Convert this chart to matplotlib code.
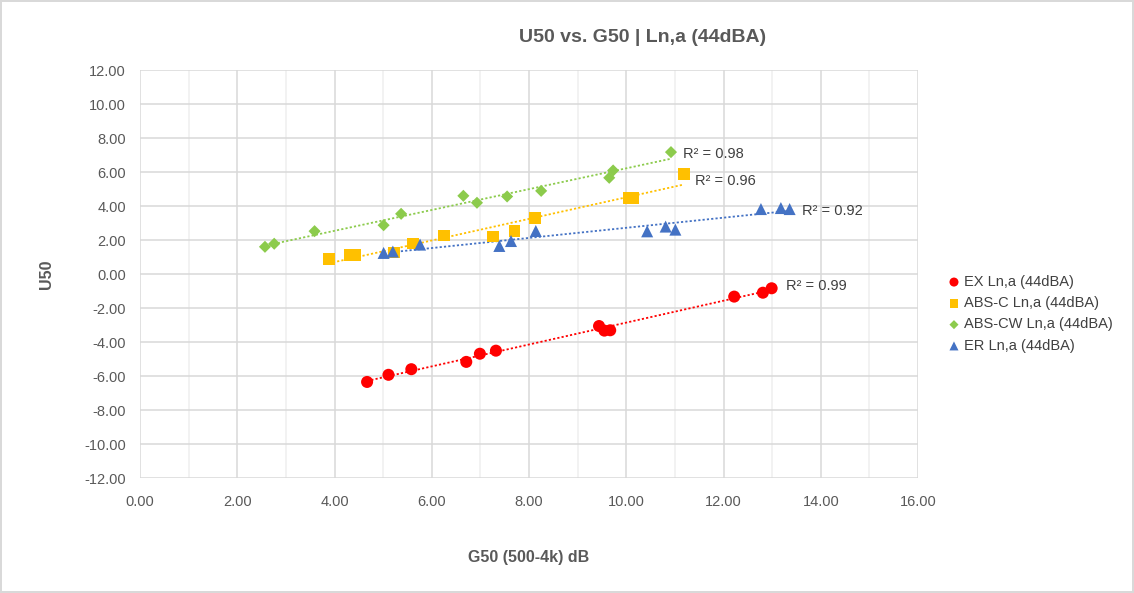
import numpy as np
import matplotlib.pyplot as plt
from matplotlib.ticker import MultipleLocator

plt.rcParams['font.family'] = ['Liberation Sans', 'DejaVu Sans']

# Datos
ex_x = [4.67, 5.11, 5.58, 6.71, 6.99, 7.32, 9.44, 9.55, 9.67, 12.22, 12.81, 12.99]
ex_y = [-6.35, -5.93, -5.60, -5.17, -4.69, -4.51, -3.06, -3.33, -3.31, -1.33, -1.10, -0.84]

absc_x = [3.88, 4.31, 4.43, 5.22, 5.61, 6.25, 7.26, 7.70, 8.13, 10.06, 10.14, 11.18]
absc_y = [0.88, 1.12, 1.12, 1.27, 1.80, 2.27, 2.21, 2.55, 3.29, 4.49, 4.49, 5.90]

abscw_x = [2.57, 2.76, 3.59, 5.01, 5.37, 6.65, 6.93, 7.55, 8.25, 9.65, 9.73, 10.92]
abscw_y = [1.60, 1.78, 2.52, 2.87, 3.54, 4.60, 4.19, 4.56, 4.89, 5.66, 6.09, 7.17]

er_x = [5.01, 5.20, 5.76, 7.39, 7.63, 8.14, 10.43, 10.81, 11.01, 12.77, 13.18, 13.36]
er_y = [1.24, 1.32, 1.73, 1.65, 1.94, 2.53, 2.51, 2.79, 2.61, 3.82, 3.88, 3.82]

labels = ["EX Ln,a (44dBA)", "ABS-C Ln,a (44dBA)", "ABS-CW Ln,a (44dBA)", "ER Ln,a (44dBA)"]
r2_text = ["R² = 0.99", "R² = 0.96", "R² = 0.98", "R² = 0.92"]

series = [(ex_x, ex_y), (absc_x, absc_y), (abscw_x, abscw_y), (er_x, er_y)]
colors = ["#FF0000", "#FFC000", "#8CCB4C", "#4472C4"]
markers = ["o", "s", "D", "^"]
sizes = [75, 72, 38, 75]
# posicion de la etiqueta R² (desplazamiento desde el ultimo punto, en pt)
r2_offset = [(10, 2.5), (8, 2.5), (9, 3.6), (9, 0)]

fig = plt.figure(figsize=(11.34, 5.93), dpi=100)
fig.patch.set_edgecolor("#d9d9d9")
fig.patch.set_linewidth(1.5)
ax = fig.add_axes([140/1134, 1 - 478/593, 778/1134, 408/593])

for i, (xs, ys) in enumerate(series):
    xs = np.array(xs)
    ys = np.array(ys)
    ax.scatter(xs, ys, s=sizes[i], marker=markers[i], color=colors[i],
               edgecolors="none", label=labels[i], zorder=3)
    # Linea de tendencia lineal
    m, b = np.polyfit(xs, ys, 1)
    xt = np.array([xs.min(), xs.max()])
    ax.plot(xt, m * xt + b, linestyle=(0, (1.2, 1.2)), color=colors[i], lw=1.3, zorder=2)
    ax.annotate(r2_text[i], (xs.max(), m * xs.max() + b), xytext=r2_offset[i],
                textcoords="offset points", fontsize=10.5, color="#404040",
                va="center", ha="left")

ax.set_xlim(0, 16)
ax.set_ylim(-12, 12)
ax.xaxis.set_major_locator(MultipleLocator(2))
ax.xaxis.set_minor_locator(MultipleLocator(1))
ax.yaxis.set_major_locator(MultipleLocator(2))
ax.xaxis.set_major_formatter(lambda v, p: f"{v:.2f}")
ax.yaxis.set_major_formatter(lambda v, p: f"{v:.2f}")

ax.grid(which="major", color="#d9d9d9", lw=1.1)
ax.grid(which="minor", axis="x", color="#efefef", lw=1.1)
ax.set_axisbelow(True)
for s in ax.spines.values():
    s.set_visible(False)
ax.tick_params(which="both", length=0, labelsize=10.5, labelcolor="#595959")
ax.tick_params(axis="x", pad=12)
ax.tick_params(axis="y", pad=10)

ax.set_xlabel("G50 (500-4k) dB", fontsize=11.5, fontweight="bold", color="#595959", labelpad=30)
ax.set_ylabel("U50", fontsize=11.5, fontweight="bold", color="#595959", labelpad=22)
fig.text(643/1134, 1 - 37/593, "U50 vs. G50 | Ln,a (44dBA)", fontsize=14, fontweight="bold",
         color="#595959", ha="center", va="center")

leg = ax.legend(loc="upper left", bbox_to_anchor=(1.02, 0.53), frameon=False,
                fontsize=10.5, labelcolor="#404040", handletextpad=0.2,
                markerscale=0.75, labelspacing=0.5, handlelength=1.0)

plt.savefig("out.png", dpi=100)
